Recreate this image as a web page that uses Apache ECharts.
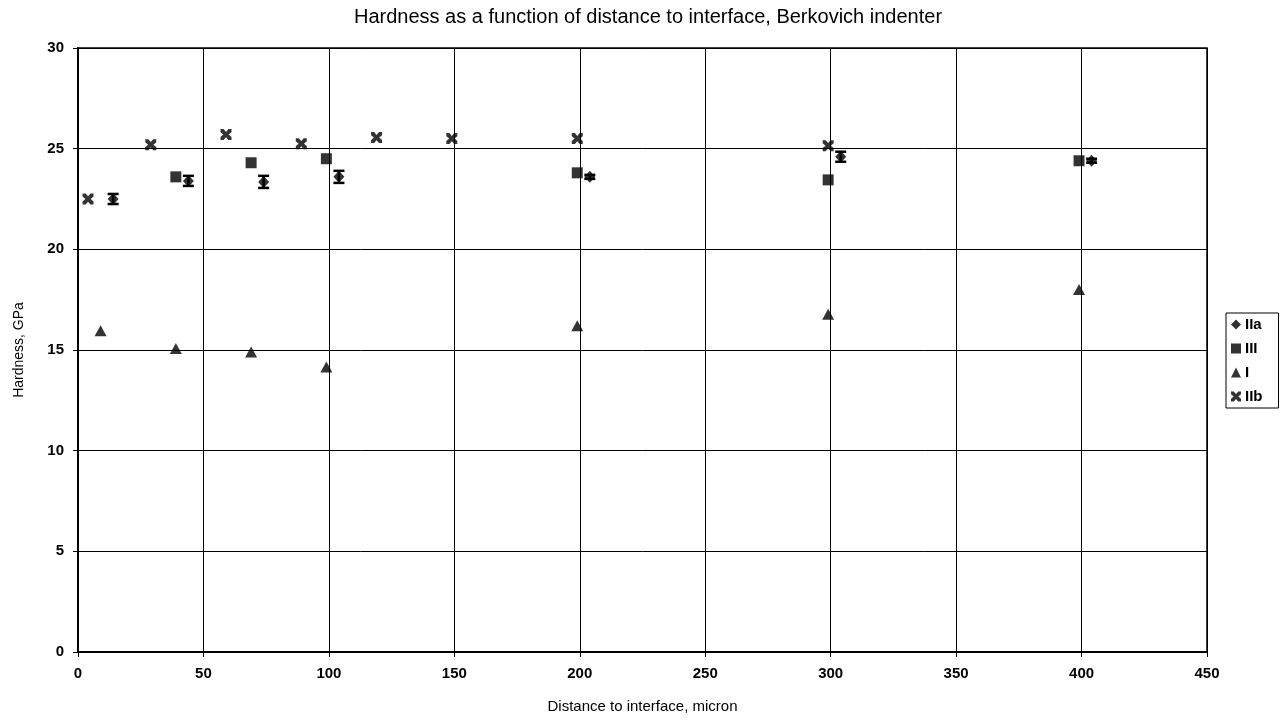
<!DOCTYPE html>
<html>
<head>
<meta charset="utf-8">
<script src="https://cdn.jsdelivr.net/npm/echarts@6/dist/echarts.min.js"></script>
<style>
  html, body { margin: 0; padding: 0; background: #fff; }
  #chart { width: 1281px; height: 722px; }
</style>
</head>
<body>
<div id="chart"></div>
<script>
// Indentation hardness (GPa) against distance from the interface (micron)
const seriesNames = ['IIa', 'III', 'I', 'IIb'];

const xIIa = [14, 44, 74, 104, 204, 304, 404];
const yIIa = [22.5, 23.4, 23.35, 23.6, 23.6, 24.6, 24.4];
const errIIa = [0.25, 0.25, 0.3, 0.3, 0.1, 0.25, 0.1];

const xIII = [39, 69, 99, 199, 299, 399];
const yIII = [23.6, 24.3, 24.5, 23.8, 23.45, 24.4];

const xI = [9, 39, 69, 99, 199, 299, 399];
const yI = [15.95, 15.08, 14.9, 14.15, 16.2, 16.78, 18.0];

const xIIb = [4, 29, 59, 89, 119, 149, 199, 299];
const yIIb = [22.5, 25.2, 25.7, 25.25, 25.55, 25.5, 25.5, 25.15];

const xTicks = [0, 50, 100, 150, 200, 250, 300, 350, 400, 450];
const yTicks = [0, 5, 10, 15, 20, 25, 30];

const pairs = (xs, ys) => xs.map((x, i) => [x, ys[i]]);
const crossPath = 'path://M0,0 L2.8,0 L5,2.6 L7.2,0 L10,0 L10,2.8 L7.4,5 L10,7.2 L10,10 L7.2,10 L5,7.4 L2.8,10 L0,10 L0,7.2 L2.6,5 L0,2.8 Z';

const font = '"Liberation Sans", Arial, sans-serif';
const chart = echarts.init(document.getElementById('chart'), null, { renderer: 'canvas' });

chart.setOption({
  backgroundColor: '#fff',
  animation: false,
  title: {
    text: 'Hardness as a function of distance to interface, Berkovich indenter',
    left: 643, top: 2, textAlign: 'center',
    textStyle: { fontFamily: font, fontSize: 20, fontWeight: 'normal', color: '#000' }
  },
  grid: {
    left: 78, right: 74, top: 48, bottom: 70,
    show: true, borderColor: '#000', borderWidth: 1.5, backgroundColor: '#fff'
  },
  legend: {
    orient: 'vertical', left: 1226, top: 313,
    data: seriesNames,
    itemWidth: 10, itemHeight: 10, itemGap: 9,
    padding: [4, 16, 4, 5],
    borderColor: '#000', borderWidth: 1, backgroundColor: '#fff',
    textStyle: { fontFamily: font, fontSize: 15, fontWeight: 'bold', color: '#000', padding: [0, 0, 0, -1] }
  },
  xAxis: {
    type: 'value', min: 0, max: 450, interval: 50,
    name: 'Distance to interface, micron', nameLocation: 'middle', nameGap: 47,
    nameTextStyle: { fontFamily: font, fontSize: 15, color: '#000' },
    axisLine: { show: true, lineStyle: { color: '#000', width: 2 } },
    axisTick: { show: true, length: 5, lineStyle: { color: '#000', width: 1 } },
    axisLabel: {
      fontFamily: font, fontSize: 15, fontWeight: 'bold', color: '#000', margin: 14,
      customValues: xTicks, formatter: v => String(v)
    },
    splitLine: { show: true, lineStyle: { color: '#000', width: 1 } }
  },
  yAxis: {
    type: 'value', min: 0, max: 30, interval: 5,
    name: 'Hardness, GPa', nameLocation: 'middle', nameGap: 52,
    nameTextStyle: { fontFamily: font, fontSize: 14, color: '#000' },
    axisLine: { show: true, lineStyle: { color: '#000', width: 2 } },
    axisTick: { show: true, length: 5, lineStyle: { color: '#000', width: 1 } },
    axisLabel: {
      fontFamily: font, fontSize: 15, fontWeight: 'bold', color: '#000', margin: 14,
      customValues: yTicks, formatter: v => String(v)
    },
    splitLine: { show: true, lineStyle: { color: '#000', width: 1 } }
  },
  series: [
    {
      name: 'IIa', type: 'scatter', symbol: 'diamond', symbolSize: [11, 12],
      itemStyle: { color: '#000' }, data: pairs(xIIa, yIIa), z: 5
    },
    {
      name: 'III', type: 'scatter', symbol: 'rect', symbolSize: 11,
      itemStyle: { color: '#000' }, data: pairs(xIII, yIII), z: 5
    },
    {
      name: 'I', type: 'scatter', symbol: 'triangle', symbolSize: [12, 11],
      itemStyle: { color: '#000' }, data: pairs(xI, yI), z: 5
    },
    {
      name: 'IIb', type: 'scatter', symbol: crossPath, symbolSize: 11,
      itemStyle: { color: '#000' }, data: pairs(xIIb, yIIb), z: 5
    },
    {
      // error bars for IIa: vertical stem with caps
      name: 'IIa error', type: 'custom', z: 6,
      data: xIIa.map((x, i) => [x, yIIa[i], errIIa[i]]),
      renderItem: (params, api) => {
        const x = api.value(0), y = api.value(1), e = api.value(2);
        const top = api.coord([x, y + e]);
        const bot = api.coord([x, y - e]);
        const hw = 5.5;
        const st = { stroke: '#000', lineWidth: 2.5 };
        return {
          type: 'group',
          children: [
            { type: 'line', shape: { x1: top[0], y1: top[1], x2: bot[0], y2: bot[1] }, style: st },
            { type: 'line', shape: { x1: top[0] - hw, y1: top[1], x2: top[0] + hw, y2: top[1] }, style: st },
            { type: 'line', shape: { x1: bot[0] - hw, y1: bot[1], x2: bot[0] + hw, y2: bot[1] }, style: st }
          ]
        };
      }
    }
  ]
});
</script>
</body>
</html>
